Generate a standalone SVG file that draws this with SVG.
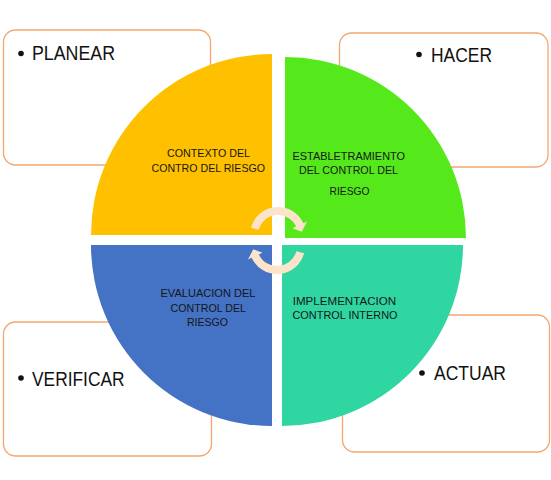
<svg xmlns="http://www.w3.org/2000/svg" width="551" height="480" viewBox="0 0 551 480">
<style>
.box{fill:#fff;stroke:#F4A66E;stroke-width:1.3}
.big{font-family:"Liberation Sans",Arial,sans-serif;font-size:20px;fill:#111}
.sm{font-family:"Liberation Sans",Arial,sans-serif;font-size:11.5px;fill:#161616}
.arr{fill:#FCE4CB}
</style>
<rect width="551" height="480" fill="#fff"/>
<g id="box-planear">
<rect class="box" x="3.5" y="30" width="207" height="135" rx="12"/>
<circle cx="21" cy="53.5" r="2.8" fill="#111"/>
<text class="big" x="32" y="60" textLength="83" lengthAdjust="spacingAndGlyphs">PLANEAR</text>
</g>
<g id="box-hacer">
<rect class="box" x="339.5" y="33" width="208.5" height="134" rx="12"/>
<circle cx="419" cy="54.5" r="2.8" fill="#111"/>
<text class="big" x="431" y="61.5" textLength="61" lengthAdjust="spacingAndGlyphs">HACER</text>
</g>
<g id="box-verificar">
<rect class="box" x="3.5" y="322" width="208" height="134" rx="12"/>
<circle cx="21" cy="378" r="2.8" fill="#111"/>
<text class="big" x="32" y="385.5" textLength="92.5" lengthAdjust="spacingAndGlyphs">VERIFICAR</text>
</g>
<g id="box-actuar">
<rect class="box" x="342.5" y="315" width="207" height="137" rx="12"/>
<circle cx="422" cy="373" r="2.8" fill="#111"/>
<text class="big" x="434" y="380" textLength="72" lengthAdjust="spacingAndGlyphs">ACTUAR</text>
</g>
<g id="q-contexto">
<path d="M272,235 H91 A181,181 0 0 1 272,54 Z" fill="#FFC000"/>
<text class="sm" x="167" y="157" textLength="83" lengthAdjust="spacingAndGlyphs">CONTEXTO DEL</text>
<text class="sm" x="151.5" y="172" textLength="113.5" lengthAdjust="spacingAndGlyphs">CONTRO DEL RIESGO</text>
</g>
<g id="q-establetramiento">
<path d="M285,238 V57 A181,181 0 0 1 466,238 Z" fill="#55E91C"/>
<text class="sm" x="292.5" y="160" textLength="112.5" lengthAdjust="spacingAndGlyphs">ESTABLETRAMIENTO</text>
<text class="sm" x="299" y="174" textLength="99" lengthAdjust="spacingAndGlyphs">DEL CONTROL DEL</text>
<text class="sm" x="329.5" y="195" textLength="40" lengthAdjust="spacingAndGlyphs">RIESGO</text>
</g>
<g id="q-evaluacion">
<path d="M272,245 V426 A181,181 0 0 1 91,245 Z" fill="#4472C4"/>
<text class="sm" x="160.5" y="297" textLength="95" lengthAdjust="spacingAndGlyphs">EVALUACION DEL</text>
<text class="sm" x="170.5" y="312" textLength="75.5" lengthAdjust="spacingAndGlyphs">CONTROL DEL</text>
<text class="sm" x="187" y="326" textLength="41" lengthAdjust="spacingAndGlyphs">RIESGO</text>
</g>
<g id="q-implementacion">
<path d="M282,245 H463 A181,181 0 0 1 282,426 Z" fill="#2FD6A2"/>
<text class="sm" x="292.7" y="304.5" textLength="103.5" lengthAdjust="spacingAndGlyphs">IMPLEMENTACION</text>
<text class="sm" x="292.5" y="319" textLength="105" lengthAdjust="spacingAndGlyphs">CONTROL INTERNO</text>
</g>
<g id="connectors">
<path class="arr" d="M250.95,227.75 A28,28 0 0 1 303.38,223.17 L307,221.48 L301.77,231.66 L292.5,228.24 L296.13,226.55 A20,20 0 0 0 258.68,229.82 Z"/>
<path class="arr" transform="rotate(180 277.5 240.5)" d="M250.95,227.75 A28,28 0 0 1 303.38,223.17 L307,221.48 L301.77,231.66 L292.5,228.24 L296.13,226.55 A20,20 0 0 0 258.68,229.82 Z"/>
</g>
</svg>
